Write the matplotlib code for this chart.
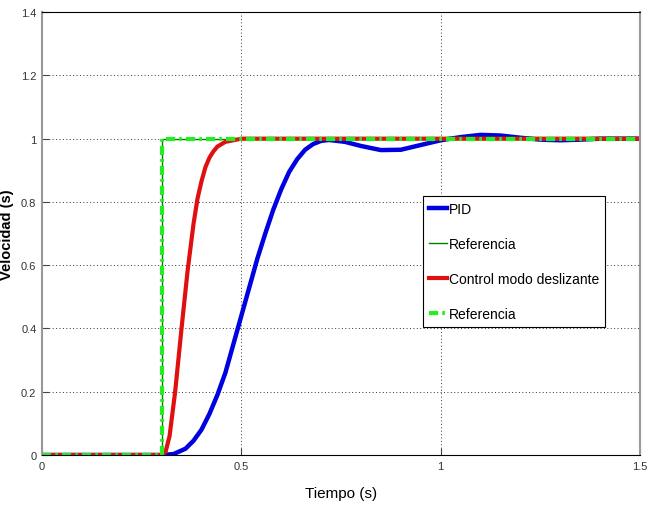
import matplotlib
matplotlib.use("Agg")
import matplotlib.pyplot as plt

# Data
t_pid = [0.0, 0.30, 0.33, 0.36, 0.38, 0.40, 0.42, 0.44, 0.46, 0.48, 0.50, 0.52,
         0.54, 0.56, 0.58, 0.60, 0.62, 0.64, 0.66, 0.68, 0.70, 0.72, 0.76, 0.80,
         0.85, 0.90, 0.95, 1.00, 1.05, 1.10, 1.15, 1.20, 1.25, 1.30, 1.35, 1.40, 1.50]
v_pid = [0.0, 0.0, 0.003, 0.02, 0.045, 0.08, 0.13, 0.19, 0.26, 0.35, 0.44, 0.53,
         0.62, 0.70, 0.775, 0.84, 0.895, 0.935, 0.965, 0.983, 0.993, 0.996, 0.99, 0.977,
         0.964, 0.965, 0.98, 0.995, 1.005, 1.012, 1.01, 1.003, 0.997, 0.995, 0.997, 1.0, 1.0]

t_smc = [0.0, 0.30, 0.31, 0.32, 0.334, 0.35, 0.365, 0.38, 0.39, 0.40, 0.41, 0.42,
         0.43, 0.44, 0.46, 0.48, 0.50, 1.50]
v_smc = [0.0, 0.0, 0.01, 0.06, 0.2, 0.40, 0.58, 0.73, 0.81, 0.865, 0.91, 0.94,
         0.96, 0.975, 0.99, 0.995, 1.0, 1.0]

t_ref = [0.0, 0.3, 0.3, 1.5]
v_ref = [0.0, 0.0, 1.0, 1.0]

labels = ["PID", "Referencia", "Control modo deslizante", "Referencia"]
x_ticks = [0, 0.5, 1, 1.5]
y_ticks = [0, 0.2, 0.4, 0.6, 0.8, 1.0, 1.2, 1.4]
x_tick_labels = ["0", "0.5", "1", "1.5"]
y_tick_labels = ["0", "0.2", "0.4", "0.6", "0.8", "1", "1.2", "1.4"]

font = "Liberation Sans"

fig = plt.figure(figsize=(6.52, 5.06), dpi=100)
ax = fig.add_axes([0.0644, 0.0988, 0.9172, 0.8752])

ax.plot(t_pid, v_pid, color="#0000e0", lw=3.2, label=labels[0])
ax.plot(t_ref, v_ref, color="#007f00", lw=1.0, label=labels[1])
ax.plot(t_smc, v_smc, color="#e01010", lw=3.0, label=labels[2])
ax.plot(t_ref, v_ref, color="#22ee22", lw=3.0, ls=(0, (2.2, 1.0, 0.6, 1.0)), label=labels[3])

ax.set_xlim(0, 1.5)
ax.set_ylim(0, 1.4)
ax.set_xticks(x_ticks)
ax.set_xticklabels(x_tick_labels)
ax.set_yticks(y_ticks)
ax.set_yticklabels(y_tick_labels)
ax.grid(True, color="#333333", ls=(0, (1, 2.5)), lw=0.7)
ax.tick_params(direction="in", length=5, labelsize=8, colors="#444444", labelcolor="#333333", pad=4)
for lab in ax.get_xticklabels() + ax.get_yticklabels():
    lab.set_fontfamily(font)
for side in ["bottom", "top"]:
    ax.spines[side].set_color("black")
for side in ["left", "right"]:
    ax.spines[side].set_color("#999999")
    ax.spines[side].set_linewidth(1.5)

ax.set_xlabel("Tiempo (s)", fontsize=11, family=font)
ax.xaxis.set_label_coords(0.5, -0.07)
ax.set_ylabel("Velocidad (s)", fontsize=10.5, family=font, fontweight="bold")
ax.yaxis.set_label_coords(-0.047, 0.5)

leg = ax.legend(loc="upper left", bbox_to_anchor=(0.637, 0.585), prop={"family": font, "size": 10},
                fancybox=False, framealpha=1, edgecolor="black", handlelength=1.3,
                handletextpad=0.1, borderpad=0.45, labelspacing=1.5, borderaxespad=0)
leg.get_frame().set_linewidth(0.8)

fig.savefig("out.png", dpi=100)
